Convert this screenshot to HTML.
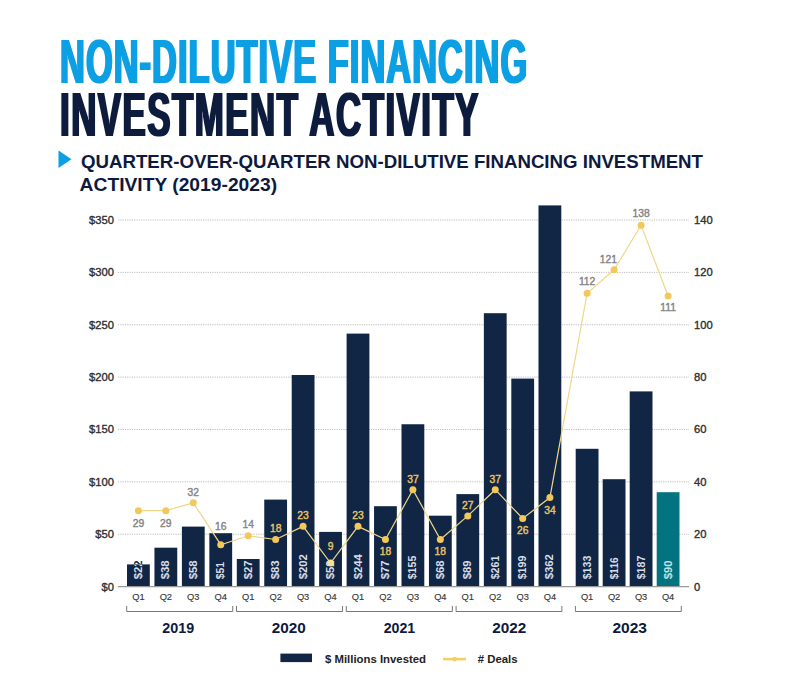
<!DOCTYPE html><html><head><meta charset="utf-8"><style>html,body{margin:0;padding:0;background:#fff;}svg{display:block;}</style></head><body>
<svg width="800" height="676" viewBox="0 0 800 676" font-family="Liberation Sans, Arial, sans-serif">
<defs><filter id="dil" x="-5%" y="-5%" width="110%" height="110%"><feMorphology operator="dilate" radius="1.0 0"/></filter></defs>
<g transform="translate(60,83.0)" filter="url(#dil)"><text transform="scale(0.55,1)" x="0" y="0" font-size="62.5" font-weight="700" letter-spacing="1.93939393939394" fill="#0b9fe4">NON-DILUTIVE FINANCING</text></g>
<g transform="translate(60,135.9)" filter="url(#dil)"><text transform="scale(0.55,1)" x="0" y="0" font-size="63.3" font-weight="700" letter-spacing="2.7474747474747474" fill="#0d1a3e">INVESTMENT ACTIVITY</text></g>
<polygon points="58.5,150.5 71.5,159.2 58.5,168" fill="#0b9fe4"/>
<text x="81" y="167.5" font-size="18.2" font-weight="700" fill="#0d1a3e" textLength="622" lengthAdjust="spacingAndGlyphs">QUARTER-OVER-QUARTER NON-DILUTIVE FINANCING INVESTMENT</text>
<text x="79.6" y="191.3" font-size="18.2" font-weight="700" fill="#0d1a3e" textLength="197.5" lengthAdjust="spacingAndGlyphs">ACTIVITY (2019-2023)</text>
<line x1="118" y1="534.23" x2="689" y2="534.23" stroke="#bdbdbd" stroke-width="1" stroke-dasharray="1.2,1.1"/>
<line x1="118" y1="481.86" x2="689" y2="481.86" stroke="#bdbdbd" stroke-width="1" stroke-dasharray="1.2,1.1"/>
<line x1="118" y1="429.49" x2="689" y2="429.49" stroke="#bdbdbd" stroke-width="1" stroke-dasharray="1.2,1.1"/>
<line x1="118" y1="377.11" x2="689" y2="377.11" stroke="#bdbdbd" stroke-width="1" stroke-dasharray="1.2,1.1"/>
<line x1="118" y1="324.74" x2="689" y2="324.74" stroke="#bdbdbd" stroke-width="1" stroke-dasharray="1.2,1.1"/>
<line x1="118" y1="272.37" x2="689" y2="272.37" stroke="#bdbdbd" stroke-width="1" stroke-dasharray="1.2,1.1"/>
<line x1="118" y1="220.00" x2="689" y2="220.00" stroke="#bdbdbd" stroke-width="1" stroke-dasharray="1.2,1.1"/>
<text x="114" y="590.50" font-size="11.2" fill="#2e2e2e" stroke="#2e2e2e" stroke-width="0.35" text-anchor="end">$0</text>
<text x="694" y="590.50" font-size="11.2" fill="#2e2e2e" stroke="#2e2e2e" stroke-width="0.35">0</text>
<text x="114" y="538.13" font-size="11.2" fill="#2e2e2e" stroke="#2e2e2e" stroke-width="0.35" text-anchor="end">$50</text>
<text x="694" y="538.13" font-size="11.2" fill="#2e2e2e" stroke="#2e2e2e" stroke-width="0.35">20</text>
<text x="114" y="485.76" font-size="11.2" fill="#2e2e2e" stroke="#2e2e2e" stroke-width="0.35" text-anchor="end">$100</text>
<text x="694" y="485.76" font-size="11.2" fill="#2e2e2e" stroke="#2e2e2e" stroke-width="0.35">40</text>
<text x="114" y="433.39" font-size="11.2" fill="#2e2e2e" stroke="#2e2e2e" stroke-width="0.35" text-anchor="end">$150</text>
<text x="694" y="433.39" font-size="11.2" fill="#2e2e2e" stroke="#2e2e2e" stroke-width="0.35">60</text>
<text x="114" y="381.01" font-size="11.2" fill="#2e2e2e" stroke="#2e2e2e" stroke-width="0.35" text-anchor="end">$200</text>
<text x="694" y="381.01" font-size="11.2" fill="#2e2e2e" stroke="#2e2e2e" stroke-width="0.35">80</text>
<text x="114" y="328.64" font-size="11.2" fill="#2e2e2e" stroke="#2e2e2e" stroke-width="0.35" text-anchor="end">$250</text>
<text x="694" y="328.64" font-size="11.2" fill="#2e2e2e" stroke="#2e2e2e" stroke-width="0.35">100</text>
<text x="114" y="276.27" font-size="11.2" fill="#2e2e2e" stroke="#2e2e2e" stroke-width="0.35" text-anchor="end">$300</text>
<text x="694" y="276.27" font-size="11.2" fill="#2e2e2e" stroke="#2e2e2e" stroke-width="0.35">120</text>
<text x="114" y="223.90" font-size="11.2" fill="#2e2e2e" stroke="#2e2e2e" stroke-width="0.35" text-anchor="end">$350</text>
<text x="694" y="223.90" font-size="11.2" fill="#2e2e2e" stroke="#2e2e2e" stroke-width="0.35">140</text>
<defs>
<clipPath id="c0"><rect x="127.00" y="564.40" width="22.8" height="22.20"/></clipPath>
<clipPath id="c1"><rect x="154.45" y="547.70" width="22.8" height="38.90"/></clipPath>
<clipPath id="c2"><rect x="181.90" y="526.60" width="22.8" height="60.00"/></clipPath>
<clipPath id="c3"><rect x="209.35" y="533.20" width="22.8" height="53.40"/></clipPath>
<clipPath id="c4"><rect x="236.80" y="559.00" width="22.8" height="27.60"/></clipPath>
<clipPath id="c5"><rect x="264.25" y="499.60" width="22.8" height="87.00"/></clipPath>
<clipPath id="c6"><rect x="291.70" y="375.00" width="22.8" height="211.60"/></clipPath>
<clipPath id="c7"><rect x="319.15" y="531.90" width="22.8" height="54.70"/></clipPath>
<clipPath id="c8"><rect x="346.60" y="333.60" width="22.8" height="253.00"/></clipPath>
<clipPath id="c9"><rect x="374.05" y="506.20" width="22.8" height="80.40"/></clipPath>
<clipPath id="c10"><rect x="401.50" y="424.25" width="22.8" height="162.35"/></clipPath>
<clipPath id="c11"><rect x="428.95" y="515.70" width="22.8" height="70.90"/></clipPath>
<clipPath id="c12"><rect x="456.40" y="494.10" width="22.8" height="92.50"/></clipPath>
<clipPath id="c13"><rect x="483.85" y="313.20" width="22.8" height="273.40"/></clipPath>
<clipPath id="c14"><rect x="511.30" y="378.60" width="22.8" height="208.00"/></clipPath>
<clipPath id="c15"><rect x="538.50" y="205.40" width="22.8" height="381.20"/></clipPath>
<clipPath id="c16"><rect x="575.70" y="448.80" width="22.8" height="137.80"/></clipPath>
<clipPath id="c17"><rect x="602.70" y="479.20" width="22.8" height="107.40"/></clipPath>
<clipPath id="c18"><rect x="629.70" y="391.40" width="22.8" height="195.20"/></clipPath>
<clipPath id="c19"><rect x="656.70" y="492.20" width="22.8" height="94.40"/></clipPath>
</defs>
<rect x="127.00" y="564.40" width="22.8" height="22.20" fill="#112645"/>
<rect x="154.45" y="547.70" width="22.8" height="38.90" fill="#112645"/>
<rect x="181.90" y="526.60" width="22.8" height="60.00" fill="#112645"/>
<rect x="209.35" y="533.20" width="22.8" height="53.40" fill="#112645"/>
<rect x="236.80" y="559.00" width="22.8" height="27.60" fill="#112645"/>
<rect x="264.25" y="499.60" width="22.8" height="87.00" fill="#112645"/>
<rect x="291.70" y="375.00" width="22.8" height="211.60" fill="#112645"/>
<rect x="319.15" y="531.90" width="22.8" height="54.70" fill="#112645"/>
<rect x="346.60" y="333.60" width="22.8" height="253.00" fill="#112645"/>
<rect x="374.05" y="506.20" width="22.8" height="80.40" fill="#112645"/>
<rect x="401.50" y="424.25" width="22.8" height="162.35" fill="#112645"/>
<rect x="428.95" y="515.70" width="22.8" height="70.90" fill="#112645"/>
<rect x="456.40" y="494.10" width="22.8" height="92.50" fill="#112645"/>
<rect x="483.85" y="313.20" width="22.8" height="273.40" fill="#112645"/>
<rect x="511.30" y="378.60" width="22.8" height="208.00" fill="#112645"/>
<rect x="538.50" y="205.40" width="22.8" height="381.20" fill="#112645"/>
<rect x="575.70" y="448.80" width="22.8" height="137.80" fill="#112645"/>
<rect x="602.70" y="479.20" width="22.8" height="107.40" fill="#112645"/>
<rect x="629.70" y="391.40" width="22.8" height="195.20" fill="#112645"/>
<rect x="656.70" y="492.20" width="22.8" height="94.40" fill="#03737f"/>
<line x1="118" y1="586.6" x2="689" y2="586.6" stroke="#999" stroke-width="1.2"/>
<text transform="translate(141.90,579.3) rotate(-90)" font-size="11" font-weight="700" fill="#112645" textLength="18.9" lengthAdjust="spacingAndGlyphs">$22</text>
<g clip-path="url(#c0)"><text transform="translate(141.90,579.3) rotate(-90)" font-size="11" font-weight="700" fill="#d8dee9" textLength="18.9" lengthAdjust="spacingAndGlyphs">$22</text></g>
<text transform="translate(169.35,579.3) rotate(-90)" font-size="11" font-weight="700" fill="#112645" textLength="18.9" lengthAdjust="spacingAndGlyphs">$38</text>
<g clip-path="url(#c1)"><text transform="translate(169.35,579.3) rotate(-90)" font-size="11" font-weight="700" fill="#d8dee9" textLength="18.9" lengthAdjust="spacingAndGlyphs">$38</text></g>
<text transform="translate(196.80,579.3) rotate(-90)" font-size="11" font-weight="700" fill="#112645" textLength="18.9" lengthAdjust="spacingAndGlyphs">$58</text>
<g clip-path="url(#c2)"><text transform="translate(196.80,579.3) rotate(-90)" font-size="11" font-weight="700" fill="#d8dee9" textLength="18.9" lengthAdjust="spacingAndGlyphs">$58</text></g>
<text transform="translate(224.25,579.3) rotate(-90)" font-size="11" font-weight="700" fill="#112645" textLength="17.3" lengthAdjust="spacingAndGlyphs">$51</text>
<g clip-path="url(#c3)"><text transform="translate(224.25,579.3) rotate(-90)" font-size="11" font-weight="700" fill="#d8dee9" textLength="17.3" lengthAdjust="spacingAndGlyphs">$51</text></g>
<text transform="translate(251.70,579.3) rotate(-90)" font-size="11" font-weight="700" fill="#112645" textLength="18.9" lengthAdjust="spacingAndGlyphs">$27</text>
<g clip-path="url(#c4)"><text transform="translate(251.70,579.3) rotate(-90)" font-size="11" font-weight="700" fill="#d8dee9" textLength="18.9" lengthAdjust="spacingAndGlyphs">$27</text></g>
<text transform="translate(279.15,579.3) rotate(-90)" font-size="11" font-weight="700" fill="#112645" textLength="18.9" lengthAdjust="spacingAndGlyphs">$83</text>
<g clip-path="url(#c5)"><text transform="translate(279.15,579.3) rotate(-90)" font-size="11" font-weight="700" fill="#d8dee9" textLength="18.9" lengthAdjust="spacingAndGlyphs">$83</text></g>
<text transform="translate(306.60,579.3) rotate(-90)" font-size="11" font-weight="700" fill="#112645" textLength="25.2" lengthAdjust="spacingAndGlyphs">$202</text>
<g clip-path="url(#c6)"><text transform="translate(306.60,579.3) rotate(-90)" font-size="11" font-weight="700" fill="#d8dee9" textLength="25.2" lengthAdjust="spacingAndGlyphs">$202</text></g>
<text transform="translate(334.05,579.3) rotate(-90)" font-size="11" font-weight="700" fill="#112645" textLength="18.9" lengthAdjust="spacingAndGlyphs">$52</text>
<g clip-path="url(#c7)"><text transform="translate(334.05,579.3) rotate(-90)" font-size="11" font-weight="700" fill="#d8dee9" textLength="18.9" lengthAdjust="spacingAndGlyphs">$52</text></g>
<text transform="translate(361.50,579.3) rotate(-90)" font-size="11" font-weight="700" fill="#112645" textLength="25.2" lengthAdjust="spacingAndGlyphs">$244</text>
<g clip-path="url(#c8)"><text transform="translate(361.50,579.3) rotate(-90)" font-size="11" font-weight="700" fill="#d8dee9" textLength="25.2" lengthAdjust="spacingAndGlyphs">$244</text></g>
<text transform="translate(388.95,579.3) rotate(-90)" font-size="11" font-weight="700" fill="#112645" textLength="18.9" lengthAdjust="spacingAndGlyphs">$77</text>
<g clip-path="url(#c9)"><text transform="translate(388.95,579.3) rotate(-90)" font-size="11" font-weight="700" fill="#d8dee9" textLength="18.9" lengthAdjust="spacingAndGlyphs">$77</text></g>
<text transform="translate(416.40,579.3) rotate(-90)" font-size="11" font-weight="700" fill="#112645" textLength="23.6" lengthAdjust="spacingAndGlyphs">$155</text>
<g clip-path="url(#c10)"><text transform="translate(416.40,579.3) rotate(-90)" font-size="11" font-weight="700" fill="#d8dee9" textLength="23.6" lengthAdjust="spacingAndGlyphs">$155</text></g>
<text transform="translate(443.85,579.3) rotate(-90)" font-size="11" font-weight="700" fill="#112645" textLength="18.9" lengthAdjust="spacingAndGlyphs">$68</text>
<g clip-path="url(#c11)"><text transform="translate(443.85,579.3) rotate(-90)" font-size="11" font-weight="700" fill="#d8dee9" textLength="18.9" lengthAdjust="spacingAndGlyphs">$68</text></g>
<text transform="translate(471.30,579.3) rotate(-90)" font-size="11" font-weight="700" fill="#112645" textLength="18.9" lengthAdjust="spacingAndGlyphs">$89</text>
<g clip-path="url(#c12)"><text transform="translate(471.30,579.3) rotate(-90)" font-size="11" font-weight="700" fill="#d8dee9" textLength="18.9" lengthAdjust="spacingAndGlyphs">$89</text></g>
<text transform="translate(498.75,579.3) rotate(-90)" font-size="11" font-weight="700" fill="#112645" textLength="23.6" lengthAdjust="spacingAndGlyphs">$261</text>
<g clip-path="url(#c13)"><text transform="translate(498.75,579.3) rotate(-90)" font-size="11" font-weight="700" fill="#d8dee9" textLength="23.6" lengthAdjust="spacingAndGlyphs">$261</text></g>
<text transform="translate(526.20,579.3) rotate(-90)" font-size="11" font-weight="700" fill="#112645" textLength="23.6" lengthAdjust="spacingAndGlyphs">$199</text>
<g clip-path="url(#c14)"><text transform="translate(526.20,579.3) rotate(-90)" font-size="11" font-weight="700" fill="#d8dee9" textLength="23.6" lengthAdjust="spacingAndGlyphs">$199</text></g>
<text transform="translate(553.40,579.3) rotate(-90)" font-size="11" font-weight="700" fill="#112645" textLength="25.2" lengthAdjust="spacingAndGlyphs">$362</text>
<g clip-path="url(#c15)"><text transform="translate(553.40,579.3) rotate(-90)" font-size="11" font-weight="700" fill="#d8dee9" textLength="25.2" lengthAdjust="spacingAndGlyphs">$362</text></g>
<text transform="translate(590.60,579.3) rotate(-90)" font-size="11" font-weight="700" fill="#112645" textLength="23.6" lengthAdjust="spacingAndGlyphs">$133</text>
<g clip-path="url(#c16)"><text transform="translate(590.60,579.3) rotate(-90)" font-size="11" font-weight="700" fill="#d8dee9" textLength="23.6" lengthAdjust="spacingAndGlyphs">$133</text></g>
<text transform="translate(617.60,579.3) rotate(-90)" font-size="11" font-weight="700" fill="#112645" textLength="22.0" lengthAdjust="spacingAndGlyphs">$116</text>
<g clip-path="url(#c17)"><text transform="translate(617.60,579.3) rotate(-90)" font-size="11" font-weight="700" fill="#d8dee9" textLength="22.0" lengthAdjust="spacingAndGlyphs">$116</text></g>
<text transform="translate(644.60,579.3) rotate(-90)" font-size="11" font-weight="700" fill="#112645" textLength="23.6" lengthAdjust="spacingAndGlyphs">$187</text>
<g clip-path="url(#c18)"><text transform="translate(644.60,579.3) rotate(-90)" font-size="11" font-weight="700" fill="#d8dee9" textLength="23.6" lengthAdjust="spacingAndGlyphs">$187</text></g>
<g clip-path="url(#c19)"><text transform="translate(671.60,579.3) rotate(-90)" font-size="11" font-weight="700" fill="#bfe3e8" textLength="18.9" lengthAdjust="spacingAndGlyphs">$90</text></g>
<polyline points="138.40,510.66 165.85,510.66 193.30,502.81 220.75,544.70 248.20,535.80 275.65,539.47 303.10,526.37 330.55,563.03 358.00,526.37 385.45,539.47 412.90,489.71 440.35,539.47 467.80,515.90 495.25,489.71 522.70,518.52 549.90,497.57 587.10,293.32 614.10,269.75 641.10,225.24 668.10,295.94" fill="none" stroke="#f0d688" stroke-width="1.2"/>
<circle cx="138.40" cy="510.66" r="3.5" fill="#f2c75c"/>
<circle cx="165.85" cy="510.66" r="3.5" fill="#f2c75c"/>
<circle cx="193.30" cy="502.81" r="3.5" fill="#f2c75c"/>
<circle cx="220.75" cy="544.70" r="3.5" fill="#f2c75c"/>
<circle cx="248.20" cy="535.80" r="3.5" fill="#f2c75c"/>
<circle cx="275.65" cy="539.47" r="3.5" fill="#f2c75c"/>
<circle cx="303.10" cy="526.37" r="3.5" fill="#f2c75c"/>
<circle cx="330.55" cy="563.03" r="3.5" fill="#f4df9c"/>
<circle cx="358.00" cy="526.37" r="3.5" fill="#f2c75c"/>
<circle cx="385.45" cy="539.47" r="3.5" fill="#f2c75c"/>
<circle cx="412.90" cy="489.71" r="3.5" fill="#f2c75c"/>
<circle cx="440.35" cy="539.47" r="3.5" fill="#f2c75c"/>
<circle cx="467.80" cy="515.90" r="3.5" fill="#f2c75c"/>
<circle cx="495.25" cy="489.71" r="3.5" fill="#f2c75c"/>
<circle cx="522.70" cy="518.52" r="3.5" fill="#f2c75c"/>
<circle cx="549.90" cy="497.57" r="3.5" fill="#f2c75c"/>
<circle cx="587.10" cy="293.32" r="3.5" fill="#f2c75c"/>
<circle cx="614.10" cy="269.75" r="3.5" fill="#f2c75c"/>
<circle cx="641.10" cy="225.24" r="3.5" fill="#f2c75c"/>
<circle cx="668.10" cy="295.94" r="3.5" fill="#f2c75c"/>
<text x="138.40" y="526.66" font-size="10.3" fill="#858585" stroke="#858585" stroke-width="0.4" text-anchor="middle">29</text>
<text x="165.85" y="526.66" font-size="10.3" fill="#858585" stroke="#858585" stroke-width="0.4" text-anchor="middle">29</text>
<text x="193.30" y="496.01" font-size="10.3" fill="#858585" stroke="#858585" stroke-width="0.4" text-anchor="middle">32</text>
<text x="220.75" y="530.10" font-size="10.3" fill="#858585" stroke="#858585" stroke-width="0.4" text-anchor="middle">16</text>
<text x="248.20" y="527.90" font-size="10.3" fill="#858585" stroke="#858585" stroke-width="0.4" text-anchor="middle">14</text>
<text x="275.65" y="532.37" font-size="10.3" fill="#e8c468" stroke="#e8c468" stroke-width="0.4" text-anchor="middle">18</text>
<text x="303.10" y="519.27" font-size="10.3" fill="#e8c468" stroke="#e8c468" stroke-width="0.4" text-anchor="middle">23</text>
<text x="330.55" y="550.33" font-size="10.3" fill="#e8c468" stroke="#e8c468" stroke-width="0.4" text-anchor="middle">9</text>
<text x="358.00" y="519.07" font-size="10.3" fill="#e8c468" stroke="#e8c468" stroke-width="0.4" text-anchor="middle">23</text>
<text x="385.45" y="554.67" font-size="10.3" fill="#e8c468" stroke="#e8c468" stroke-width="0.4" text-anchor="middle">18</text>
<text x="412.90" y="482.51" font-size="10.3" fill="#e8c468" stroke="#e8c468" stroke-width="0.4" text-anchor="middle">37</text>
<text x="440.35" y="554.77" font-size="10.3" fill="#e8c468" stroke="#e8c468" stroke-width="0.4" text-anchor="middle">18</text>
<text x="467.80" y="508.60" font-size="10.3" fill="#e8c468" stroke="#e8c468" stroke-width="0.4" text-anchor="middle">27</text>
<text x="495.25" y="482.91" font-size="10.3" fill="#e8c468" stroke="#e8c468" stroke-width="0.4" text-anchor="middle">37</text>
<text x="522.70" y="534.12" font-size="10.3" fill="#e8c468" stroke="#e8c468" stroke-width="0.4" text-anchor="middle">26</text>
<text x="549.90" y="513.57" font-size="10.3" fill="#e8c468" stroke="#e8c468" stroke-width="0.4" text-anchor="middle">34</text>
<text x="587.10" y="285.32" font-size="10.3" fill="#858585" stroke="#858585" stroke-width="0.4" text-anchor="middle">112</text>
<text x="608.40" y="262.65" font-size="10.3" fill="#858585" stroke="#858585" stroke-width="0.4" text-anchor="middle">121</text>
<text x="641.10" y="217.24" font-size="10.3" fill="#858585" stroke="#858585" stroke-width="0.4" text-anchor="middle">138</text>
<text x="668.10" y="311.14" font-size="10.3" fill="#858585" stroke="#858585" stroke-width="0.4" text-anchor="middle">111</text>
<text x="138.40" y="599.6" font-size="9.3" fill="#383838" stroke="#383838" stroke-width="0.15" text-anchor="middle">Q1</text>
<text x="165.85" y="599.6" font-size="9.3" fill="#383838" stroke="#383838" stroke-width="0.15" text-anchor="middle">Q2</text>
<text x="193.30" y="599.6" font-size="9.3" fill="#383838" stroke="#383838" stroke-width="0.15" text-anchor="middle">Q3</text>
<text x="220.75" y="599.6" font-size="9.3" fill="#383838" stroke="#383838" stroke-width="0.15" text-anchor="middle">Q4</text>
<text x="248.20" y="599.6" font-size="9.3" fill="#383838" stroke="#383838" stroke-width="0.15" text-anchor="middle">Q1</text>
<text x="275.65" y="599.6" font-size="9.3" fill="#383838" stroke="#383838" stroke-width="0.15" text-anchor="middle">Q2</text>
<text x="303.10" y="599.6" font-size="9.3" fill="#383838" stroke="#383838" stroke-width="0.15" text-anchor="middle">Q3</text>
<text x="330.55" y="599.6" font-size="9.3" fill="#383838" stroke="#383838" stroke-width="0.15" text-anchor="middle">Q4</text>
<text x="358.00" y="599.6" font-size="9.3" fill="#383838" stroke="#383838" stroke-width="0.15" text-anchor="middle">Q1</text>
<text x="385.45" y="599.6" font-size="9.3" fill="#383838" stroke="#383838" stroke-width="0.15" text-anchor="middle">Q2</text>
<text x="412.90" y="599.6" font-size="9.3" fill="#383838" stroke="#383838" stroke-width="0.15" text-anchor="middle">Q3</text>
<text x="440.35" y="599.6" font-size="9.3" fill="#383838" stroke="#383838" stroke-width="0.15" text-anchor="middle">Q4</text>
<text x="467.80" y="599.6" font-size="9.3" fill="#383838" stroke="#383838" stroke-width="0.15" text-anchor="middle">Q1</text>
<text x="495.25" y="599.6" font-size="9.3" fill="#383838" stroke="#383838" stroke-width="0.15" text-anchor="middle">Q2</text>
<text x="522.70" y="599.6" font-size="9.3" fill="#383838" stroke="#383838" stroke-width="0.15" text-anchor="middle">Q3</text>
<text x="549.90" y="599.6" font-size="9.3" fill="#383838" stroke="#383838" stroke-width="0.15" text-anchor="middle">Q4</text>
<text x="587.10" y="599.6" font-size="9.3" fill="#383838" stroke="#383838" stroke-width="0.15" text-anchor="middle">Q1</text>
<text x="614.10" y="599.6" font-size="9.3" fill="#383838" stroke="#383838" stroke-width="0.15" text-anchor="middle">Q2</text>
<text x="641.10" y="599.6" font-size="9.3" fill="#383838" stroke="#383838" stroke-width="0.15" text-anchor="middle">Q3</text>
<text x="668.10" y="599.6" font-size="9.3" fill="#383838" stroke="#383838" stroke-width="0.15" text-anchor="middle">Q4</text>
<polyline points="126.70,606 126.70,611.5 232.75,611.5 232.75,606" fill="none" stroke="#777" stroke-width="1"/>
<text x="162.30" y="633" font-size="14.2" font-weight="700" fill="#0d1a3e" textLength="31.8" lengthAdjust="spacingAndGlyphs">2019</text>
<polyline points="236.50,606 236.50,611.5 342.55,611.5 342.55,606" fill="none" stroke="#777" stroke-width="1"/>
<text x="271.70" y="633" font-size="14.2" font-weight="700" fill="#0d1a3e" textLength="34.0" lengthAdjust="spacingAndGlyphs">2020</text>
<polyline points="346.30,606 346.30,611.5 452.35,611.5 452.35,606" fill="none" stroke="#777" stroke-width="1"/>
<text x="383.70" y="633" font-size="14.2" font-weight="700" fill="#0d1a3e" textLength="31.5" lengthAdjust="spacingAndGlyphs">2021</text>
<polyline points="456.10,606 456.10,611.5 561.90,611.5 561.90,606" fill="none" stroke="#777" stroke-width="1"/>
<text x="492.20" y="633" font-size="14.2" font-weight="700" fill="#0d1a3e" textLength="34.0" lengthAdjust="spacingAndGlyphs">2022</text>
<polyline points="575.40,606 575.40,611.5 681.30,611.5 681.30,606" fill="none" stroke="#777" stroke-width="1"/>
<text x="612.40" y="633" font-size="14.2" font-weight="700" fill="#0d1a3e" textLength="34.5" lengthAdjust="spacingAndGlyphs">2023</text>
<rect x="280.4" y="653.6" width="31.6" height="8.5" fill="#112645"/>
<text x="325" y="662.6" font-size="11" font-weight="700" fill="#222" textLength="101" lengthAdjust="spacingAndGlyphs">$ Millions Invested</text>
<line x1="443" y1="659.1" x2="466" y2="659.1" stroke="#f5cf63" stroke-width="2.6"/>
<circle cx="454.6" cy="659.1" r="2.4" fill="#f5cf63"/>
<text x="477.8" y="662.6" font-size="11" font-weight="700" fill="#222" textLength="39.8" lengthAdjust="spacingAndGlyphs"># Deals</text>
</svg></body></html>
